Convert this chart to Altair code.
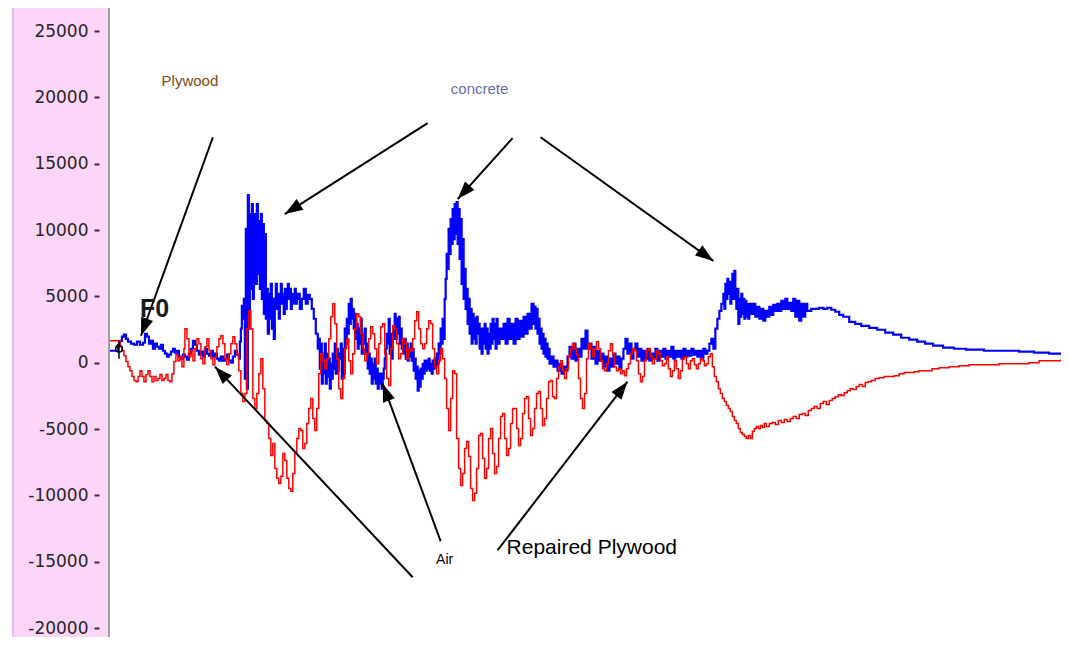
import math
import altair as alt
import pandas as pd

# ---- data (t = sample index, v = amplitude) ----
BLUE = [
    (1, 900), (7, 900), (9, 1350), (11, 1650), (13, 1960), (15, 2110), (17, 1800), (19, 1580), (22, 1430),
    (25, 1350), (28, 1580), (31, 1350), (34, 1500), (36, 2180), (38, 1960), (40, 1430), (42, 1650), (44, 1050),
    (46, 1430), (48, 1200), (50, 1050), (52, 1350), (54, 900), (56, 680), (58, 450), (60, 600), (62, 830),
    (64, 1050), (66, 750), (68, 900), (70, 450), (72, 300), (74, 600), (76, 450), (78, 230), (80, 680),
    (82, 1050), (84, 1650), (86, 1350), (88, 900), (90, 600), (92, 830), (94, 450), (96, 1050), (98, 680),
    (100, 530), (102, 900), (104, 450), (106, 680), (108, 300), (110, 150), (112, 450), (114, 150), (116, 300),
    (118, 600), (120, 150), (122, 0), (124, 450), (126, 900), (128, 600), (130, 300), (131, 1580), (132, 2560),
    (133, 4290), (134, 3310), (135, 4810), (136, -1200), (137, 10080), (138, -1960), (139, 12630), (140, 2560),
    (141, 11200), (142, 5570), (143, 11960), (144, 4810), (145, 9320), (146, 11200), (147, 5940), (148, 11960),
    (149, 6690), (150, 10680), (151, 5570), (152, 11200), (153, 4810), (154, 10450), (155, 3680), (156, 9700),
    (157, 3310), (158, 5570), (159, 2180), (160, 5190), (161, 3310), (162, 5940), (163, 2560), (164, 4810),
    (165, 1800), (166, 4440), (167, 5940), (168, 4060), (169, 5190), (170, 3310), (171, 4810), (172, 5940),
    (173, 4440), (174, 5190), (175, 3680), (176, 5570), (177, 4060), (178, 4810), (179, 5940), (180, 4810),
    (181, 5570), (182, 4060), (183, 5190), (184, 4440), (185, 4810), (186, 5570), (187, 4440), (188, 4810),
    (189, 5190), (191, 4060), (193, 4810), (195, 5570), (197, 4440), (199, 5110), (201, 4810), (203, 4060),
    (205, 3310), (207, 2180), (209, 1050), (210, 1800), (211, -450), (212, 1430), (213, -1580), (214, 680),
    (215, -830), (216, 1430), (217, -1580), (218, 680), (219, -1050), (220, 300), (221, -1960), (222, -80),
    (223, -1200), (224, 680), (225, -450), (226, 1430), (227, -830), (228, 1050), (229, -600), (230, 680),
    (231, 300), (232, 1430), (233, -1200), (234, 1050), (235, -830), (236, 2560), (237, 1430), (238, 3310),
    (239, 2180), (240, 4440), (241, 2930), (242, 4810), (243, 3310), (244, 4060), (245, 2560), (246, 3680),
    (247, 1800), (248, 2930), (249, 1050), (250, 2560), (251, 1430), (252, 3310), (253, 680), (254, 2180),
    (255, 1430), (256, 2560), (257, 680), (258, 1430), (259, -450), (260, 680), (261, -830), (262, 300),
    (263, -1580), (264, -80), (265, -1200), (266, 300), (267, -1580), (268, -450), (269, -1960), (270, -830),
    (271, -1580), (272, -830), (273, -1960), (274, -1200), (275, -450), (276, 300), (277, 1050), (278, 2180),
    (279, 1430), (280, 3310), (281, 680), (282, 2180), (283, 300), (284, 1800), (285, 2560), (286, 3680),
    (287, 1800), (288, 3310), (289, 2180), (290, 3460), (291, 1430), (292, 2560), (293, 1050), (294, 1800),
    (295, 680), (296, 1800), (297, 300), (298, 1430), (299, 150), (300, 1050), (301, 450), (302, 1430),
    (303, 150), (304, 1050), (305, -600), (306, 300), (307, -1200), (308, -300), (309, -2110), (310, -600),
    (311, -1800), (312, -450), (313, -1200), (314, -80), (315, -830), (316, 150), (317, -600), (318, 150),
    (319, -450), (320, 300), (321, -600), (322, -80), (323, -830), (324, 150), (325, -450), (326, 300),
    (327, -300), (328, 680), (329, -80), (330, 1430), (331, 680), (332, 2560), (333, 1430), (334, 3310),
    (335, 1800), (336, 4810), (337, 6320), (338, 8200), (339, 7070), (340, 10080), (341, 8200), (342, 10830),
    (343, 8950), (344, 11580), (345, 9320), (346, 11960), (347, 9700), (348, 12110), (349, 8950), (350, 11580),
    (351, 7820), (352, 10830), (353, 5940), (354, 9320), (355, 4810), (356, 7070), (357, 4060), (358, 5570),
    (359, 2930), (360, 4810), (361, 2180), (362, 4060), (363, 1430), (364, 3680), (365, 1800), (366, 3310),
    (367, 1430), (368, 3460), (369, 2180), (370, 2930), (371, 1050), (372, 2560), (373, 680), (374, 2560),
    (375, 1430), (376, 2930), (377, 1050), (378, 2560), (379, 680), (380, 2180), (381, 1050), (382, 2930),
    (383, 1430), (384, 3310), (385, 1800), (386, 2930), (387, 1050), (388, 3310), (389, 1430), (391, 2560),
    (393, 1800), (395, 2930), (397, 1430), (399, 3310), (401, 1800), (403, 2930), (405, 1430), (407, 3310),
    (409, 1800), (411, 3160), (413, 1960), (415, 3460), (417, 2180), (419, 3680), (421, 2560), (423, 4440),
    (425, 2930), (426, 4210), (427, 2560), (428, 4060), (429, 2180), (430, 3310), (431, 1430), (432, 2560),
    (433, 1050), (434, 2180), (435, 680), (436, 1800), (437, 450), (438, 1430), (439, 300), (440, 1050),
    (441, -80), (443, 450), (445, -300), (447, 150), (449, -600), (451, -80), (453, -830), (455, -300),
    (457, -600), (459, 450), (461, 1200), (463, 300), (465, 1430), (467, 150), (469, 1050), (471, 450),
    (473, 1800), (475, 1050), (477, 2410), (479, 1050), (481, 1430), (483, 300), (485, 1200), (487, -80),
    (489, 900), (491, 150), (493, 680), (495, -300), (497, 450), (499, -600), (501, 300), (503, -300),
    (505, 680), (507, -80), (509, 450), (511, -450), (513, 300), (515, 1050), (517, 1800), (519, 680),
    (521, 1430), (523, 300), (525, 1050), (527, 1430), (529, 450), (531, 1050), (533, 150), (535, 900),
    (537, 300), (539, 1050), (541, 150), (543, 680), (545, 300), (547, 1050), (549, 150), (551, 900),
    (553, 450), (555, 1050), (557, 300), (559, 900), (561, 450), (563, 1200), (565, 300), (567, 900),
    (569, 450), (571, 900), (573, 300), (575, 1050), (577, 450), (579, 900), (581, 530), (583, 1050),
    (585, 600), (587, 900), (589, 450), (591, 900), (593, 300), (595, 1050), (597, 680), (599, 900),
    (601, 1430), (603, 1800), (605, 1050), (607, 2560), (609, 3310), (611, 3910), (613, 4440), (615, 5190),
    (616, 4060), (617, 5940), (618, 4810), (619, 6320), (620, 5190), (621, 6090), (622, 4440), (623, 5720),
    (624, 6690), (625, 4810), (626, 6920), (627, 5190), (628, 4060), (629, 5570), (630, 2930), (631, 4810),
    (632, 3460), (633, 5190), (634, 3680), (635, 4810), (636, 3310), (637, 4660), (638, 3460), (639, 4440),
    (640, 3310), (641, 4440), (643, 3680), (645, 4440), (647, 3460), (649, 4210), (651, 3310), (653, 4060),
    (655, 3160), (657, 3910), (659, 3460), (661, 4210), (663, 3610), (665, 4360), (667, 3910), (669, 4440),
    (671, 3910), (673, 4660), (675, 4060), (677, 4810), (679, 4060), (681, 4510), (683, 3910), (685, 4810),
    (687, 3460), (689, 4660), (691, 3160), (693, 4440), (695, 3460), (697, 4440), (699, 3910), (703, 4060),
    (707, 4060), (711, 4140), (715, 4060), (719, 4140), (723, 3990), (727, 3840), (731, 3610), (735, 3460),
    (741, 3080), (747, 2930), (753, 2780), (761, 2630), (769, 2480), (777, 2260), (785, 2110), (793, 1880),
    (801, 1730), (809, 1580), (817, 1430), (825, 1280), (835, 1130), (846, 1050), (858, 980), (876, 900),
    (896, 900), (911, 830), (926, 750), (941, 680), (953, 600),
]

RED = [
    (1, 1650), (9, 1650), (11, 1200), (13, 900), (15, 530), (17, 80), (19, -300), (21, -600), (23, -1050),
    (25, -1350), (27, -1430), (29, -1050), (31, -600), (33, -1050), (35, -1430), (37, -900), (39, -600),
    (41, -1050), (43, -1430), (45, -1050), (47, -1350), (49, -1200), (51, -900), (53, -1350), (55, -1200),
    (57, -900), (59, -1350), (61, -1430), (63, -830), (65, 80), (67, 600), (69, 150), (71, 450), (73, -300),
    (75, 1050), (76, 2560), (78, 1800), (80, 450), (82, 900), (84, 150), (86, 1050), (88, 1800), (90, 1430),
    (92, 300), (94, -80), (96, 1200), (98, 1800), (100, 900), (102, 300), (104, -150), (106, 450), (108, 1200),
    (110, 1800), (112, 2030), (114, 1430), (116, 300), (118, -150), (120, 680), (122, 1430), (124, 1960),
    (126, 1430), (128, 680), (130, -600), (132, -2330), (134, -2930), (136, -2330), (138, 2560), (140, 3910),
    (142, 2560), (144, -2710), (146, -3460), (148, -2330), (150, -830), (152, 300), (154, -1960), (156, -4360),
    (158, -4590), (160, -5720), (162, -6990), (164, -6090), (166, -7970), (168, -8720), (170, -9100),
    (172, -8570), (174, -6840), (176, -7370), (178, -8720), (180, -9480), (182, -9700), (184, -8350),
    (186, -6840), (188, -5720), (190, -4960), (192, -5110), (194, -6470), (196, -6090), (198, -4590),
    (200, -3460), (202, -2710), (204, -4210), (206, -5110), (208, -3460), (210, -830), (212, 680), (214, 150),
    (216, -450), (218, 300), (220, 1800), (222, 3460), (224, 4440), (226, 2930), (228, 300), (230, -1960),
    (232, -2710), (234, -1200), (236, 1050), (238, 1800), (240, 150), (242, -830), (244, 680), (246, 2560),
    (248, 3680), (250, 3460), (252, 2180), (254, 1050), (256, 150), (258, 680), (260, 1800), (262, 2710),
    (264, 2180), (266, 1050), (268, -80), (270, 1430), (272, 2710), (274, 2930), (276, 680), (278, -1200),
    (280, -1730), (282, 1050), (284, 2780), (286, 2560), (288, 1430), (290, 300), (292, 680), (294, 1800),
    (296, 1430), (298, 300), (300, 1050), (302, 900), (304, 1800), (306, 3160), (308, 3830), (310, 2560),
    (312, 1430), (314, 1050), (316, 1430), (318, 2560), (320, 3160), (322, 2930), (324, 1050), (326, -300),
    (328, -830), (330, 150), (332, 1050), (334, 300), (336, -1200), (338, -3460), (340, -5110), (342, -2710),
    (344, -600), (346, -830), (348, -5720), (350, -7970), (352, -9250), (354, -8350), (356, -6470),
    (358, -5940), (360, -7070), (362, -9480), (364, -10380), (366, -9850), (368, -7970), (370, -5490),
    (372, -5340), (374, -7220), (376, -8720), (378, -7970), (380, -5720), (382, -4960), (384, -6840),
    (386, -8350), (388, -7820), (390, -5720), (392, -4060), (394, -3830), (396, -5720), (398, -6990),
    (400, -6470), (402, -4590), (404, -3460), (406, -3460), (408, -4960), (410, -6240), (412, -5720),
    (414, -3830), (416, -2710), (418, -2560), (420, -4210), (422, -5490), (424, -4960), (426, -3460),
    (428, -2330), (430, -2180), (432, -3460), (434, -4740), (436, -4210), (438, -2710), (440, -1430),
    (442, -1350), (444, -2560), (446, -2710), (448, -1200), (450, -300), (452, 150), (454, -600), (456, -1200),
    (458, -450), (460, 530), (462, 1050), (464, 1430), (466, 1050), (468, 600), (470, -1200), (472, -2710),
    (474, -3460), (476, -2330), (478, 300), (480, 1430), (482, 1050), (484, 450), (486, 1050), (488, 1580),
    (490, 1050), (492, 150), (494, -450), (496, -600), (498, -80), (500, 900), (502, 1430), (504, 680),
    (506, -300), (508, -600), (510, -450), (512, -830), (514, -600), (516, -980), (518, -450), (520, -80),
    (522, 680), (524, 1050), (526, 900), (528, 150), (530, -830), (532, -1430), (534, -1050), (536, 150),
    (538, 900), (540, 1050), (542, 450), (544, -80), (546, 300), (548, 900), (550, 680), (552, 150),
    (554, -230), (556, -80), (558, 450), (560, -450), (562, -1050), (564, -600), (566, 150), (568, -450),
    (570, -1200), (572, -600), (574, 300), (576, 450), (578, -80), (580, -450), (582, 150), (584, 300),
    (586, -150), (588, -450), (590, -80), (592, 300), (594, 150), (596, -230), (598, -80), (600, 450),
    (602, 680), (604, -300), (606, -1050), (608, -1430), (610, -1960), (612, -2330), (614, -2710),
    (616, -2930), (618, -3230), (620, -3460), (622, -3680), (624, -4060), (626, -4360), (628, -4590),
    (630, -4960), (632, -5260), (634, -5410), (636, -5560), (638, -5720), (640, -5490), (642, -5720),
    (644, -5190), (646, -4960), (648, -4810), (650, -4960), (652, -4740), (654, -4890), (656, -4590),
    (658, -4810), (661, -4590), (664, -4510), (667, -4660), (670, -4360), (673, -4510), (676, -4290),
    (679, -4440), (682, -4210), (685, -4060), (688, -4210), (691, -3910), (694, -3830), (697, -3990),
    (700, -3610), (703, -3460), (706, -3310), (709, -3460), (712, -3080), (715, -2930), (718, -3160),
    (721, -2860), (724, -2710), (727, -2560), (730, -2410), (733, -2480), (736, -2260), (739, -2110),
    (742, -1960), (745, -2030), (748, -1800), (751, -1650), (754, -1800), (757, -1500), (760, -1430),
    (763, -1350), (767, -1200), (771, -1130), (776, -1050), (781, -1050), (786, -980), (791, -830),
    (796, -750), (801, -750), (806, -680), (811, -600), (817, -600), (824, -450), (831, -380), (841, -300),
    (851, -230), (861, -150), (876, -150), (891, -80), (906, -80), (921, 0), (931, 150), (946, 150), (953, 230),
]

Y_TICKS = [-20000, -15000, -10000, -5000, 0, 5000, 10000, 15000, 20000, 25000]

# annotation arrows: (t_start, v_start, t_tip, v_tip)
ARROWS = [
    (104, 16990, 32, 2030),
    (319, 18050, 176, 11200),
    (404, 16920, 349, 12330),
    (432, 16990, 605, 7670),
    (304, -16170, 106, -300),
    (332, -13460, 274, -1580),
    (389, -14140, 519, -1430),
]

# ---- layout ----
T_MIN, T_MAX = 0, 953
V_MIN, V_MAX = -20678, 26734
W, H = 952, 629

xscale = alt.Scale(domain=[T_MIN, T_MAX], nice=False, zero=False)
yscale = alt.Scale(domain=[V_MIN, V_MAX], nice=False, zero=False)
yaxis = alt.Axis(
    values=Y_TICKS, title=None, domain=False, grid=False, ticks=True,
    tickSize=5, tickWidth=2, tickColor="#333333", offset=10, labelPadding=6,
    labelFont="DejaVu Sans", labelFontSize=17, labelColor="#262626",
    labelFlush=False, labelOverlap=False, zindex=2,
    labelExpr="(datum.value < 0 ? '-' : '') + format(abs(datum.value), 'd')",
)


def X(f):
    return alt.X(f, type="quantitative", scale=xscale, axis=None)


def Y(f):
    return alt.Y(f, type="quantitative", scale=yscale, axis=yaxis)


blue_df = pd.DataFrame(BLUE, columns=["t", "v"])
red_df = pd.DataFrame(RED, columns=["t", "v"])

one = pd.DataFrame({"a": [0]})

pink = alt.Chart(one).mark_rect(color="#FDD5F9").encode(
    x=alt.value(-97), x2=alt.value(0), y=alt.value(0), y2=alt.value(H))
pink_edge = alt.Chart(one).mark_rect(color="#EDBBE9").encode(
    x=alt.value(-97), x2=alt.value(-95), y=alt.value(0), y2=alt.value(H))
axis_line = alt.Chart(one).mark_rule(color="#A0A0A0", strokeWidth=2).encode(
    x=alt.value(0), y=alt.value(0), y2=alt.value(H))

blue = alt.Chart(blue_df).mark_line(color="#0000FF", strokeWidth=2.2, interpolate="step-after").encode(
    x=X("t"), y=Y("v"))
red = alt.Chart(red_df).mark_line(color="#FF0000", strokeWidth=1.5, interpolate="step-after").encode(
    x=X("t"), y=Y("v"))

# arrows
sx = W / (T_MAX - T_MIN)
sy = H / (V_MAX - V_MIN)
arrow_rows = []
for t0, v0, t1, v1 in ARROWS:
    dx = (t1 - t0) * sx
    dy = -(v1 - v0) * sy
    ang = math.degrees(math.atan2(dx, -dy)) % 360
    arrow_rows.append({"t0": t0, "v0": v0, "t1": t1, "v1": v1, "ang": ang})
arrow_df = pd.DataFrame(arrow_rows)

shafts = alt.Chart(arrow_df).mark_rule(color="black", strokeWidth=2).encode(
    x=X("t0"), y=Y("v0"), x2="t1", y2="v1")
heads = alt.Chart(arrow_df).mark_point(
    shape="M0,0L-0.7,2L0.7,2Z", filled=True, color="black", opacity=1, size=324, strokeWidth=0
).encode(x=X("t1"), y=Y("v1"), angle=alt.Angle("ang:Q", scale=None))

# F0 cursor marker
marker_df = pd.DataFrame({"t": [10], "v": [1050], "v_top": [1650], "v_bot": [300]})
marker_circle = alt.Chart(marker_df).mark_point(
    shape="circle", size=45, color="black", strokeWidth=1.5, filled=False, opacity=1
).encode(x=X("t"), y=Y("v"))
marker_line = alt.Chart(marker_df).mark_rule(color="black", strokeWidth=1.5).encode(
    x=X("t"), y=Y("v_top"), y2="v_bot")


def label(text, t, v, size, color, align="center", baseline="middle", weight="normal", font="Liberation Sans"):
    df = pd.DataFrame({"t": [t], "v": [v], "txt": [text]})
    return alt.Chart(df).mark_text(
        fontSize=size, color=color, align=align, baseline=baseline, fontWeight=weight, font=font
    ).encode(x=X("t"), y=Y("v"), text="txt:N")


texts = [
    label("Plywood", 81, 21200, 15, "#7B4A14"),
    label("concrete", 371, 20600, 15, "#6A6AAA"),
    label("Air", 336, -14890, 14, "black"),
    label("Repaired Plywood", 398, -13990, 21, "black", align="left"),
    label("F0", 31, 3460, 25, "#1a1a1a", align="left", baseline="alphabetic", weight="bold",
          font="Liberation Sans Narrow, Liberation Sans"),
]

chart = alt.layer(
    pink, pink_edge, axis_line, blue, red, shafts, heads, marker_line, marker_circle, *texts
).properties(
    width=W, height=H,
    autosize=alt.AutoSizeParams(type="none"),
    padding={"left": 101, "top": 0, "right": 0, "bottom": 0},
    background="white",
).configure_view(stroke=None)

chart.save("out.html", embed_options={"renderer": "svg", "actions": False})
